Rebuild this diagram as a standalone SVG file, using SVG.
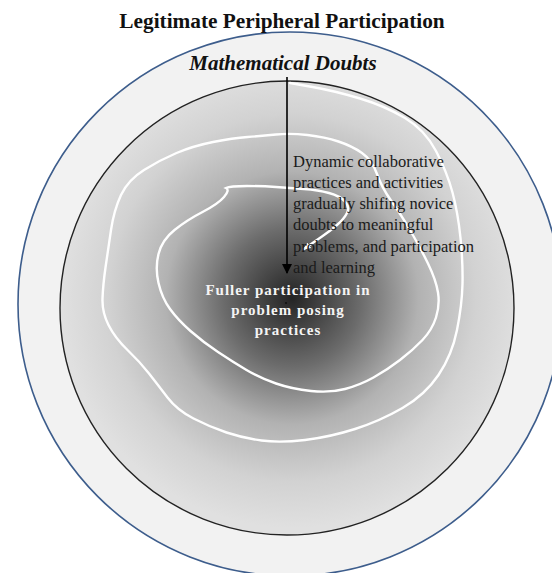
<svg xmlns="http://www.w3.org/2000/svg" width="552" height="573" viewBox="0 0 552 573">
<defs>
<style>
.title{font-family:"Liberation Serif","Times New Roman",serif;font-weight:bold;fill:#111;}
.body{font-family:"Liberation Serif","Times New Roman",serif;font-size:16.5px;fill:#1a1a1a;}
.core{font-family:"Liberation Serif","Times New Roman",serif;font-weight:bold;font-size:15px;fill:#f4f4f4;letter-spacing:1px;}
</style>
<radialGradient id="g" cx="292" cy="298" r="230" gradientUnits="userSpaceOnUse">
<stop offset="0" stop-color="#242424"/>
<stop offset="0.3" stop-color="#6c6c6c"/>
<stop offset="0.55" stop-color="#b2b2b2"/>
<stop offset="0.8" stop-color="#d2d2d2"/>
<stop offset="1" stop-color="#e0e0e0"/>
</radialGradient>
<marker id="bk" viewBox="0 0 10 10" refX="9" refY="5" markerWidth="10" markerHeight="11" markerUnits="userSpaceOnUse" orient="auto">
<path d="M0,0 L10,5 L0,10 Z" fill="#000"/>
</marker>
<marker id="wh" viewBox="0 0 10 10" refX="8" refY="5" markerWidth="8" markerHeight="8" markerUnits="userSpaceOnUse" orient="auto">
<path d="M0,1 L9,5 L0,9 Z" fill="#fff"/>
</marker>
</defs>
<rect width="552" height="573" fill="#fff"/>
<g id="outer-ring">
<circle cx="290" cy="304" r="272" fill="#f2f2f2" stroke="#3d5d8c" stroke-width="1.6"/>
</g>
<g id="inner-circle">
<circle cx="287" cy="308" r="227" fill="url(#g)" stroke="#222" stroke-width="1.4"/>
</g>
<g id="spiral">
<path d="M290,83 L312.5,87 Q335,91 360,98.5 Q385,106 405,118 Q425,130 436,151 Q447,172 452.5,192.5 Q458,213 460.5,238 Q463,263 462.5,284 Q462,305 457,330 Q452,355 438.5,375 Q425,395 402.5,408 Q380,421 355,429 Q330,437 305,440 Q280,443 261.5,440.5 Q243,438 226.5,432.5 Q210,427 193.5,418.5 Q177,410 167.5,397.5 Q158,385 149,373.5 Q140,362 127.5,350 Q115,338 108.5,325 Q102,312 102.5,298.5 Q103,285 105.5,267.5 Q108,250 111,230 Q114,210 121,195 Q128,180 144,170 Q160,160 176.5,153 Q193,146 213,142 Q233,138 247.5,137 Q262,136 276,134.5 Q290,133 307.5,135 Q325,137 338.5,141.5 Q352,146 362,153 Q372,160 377,174 Q382,188 391,200.5 Q400,213 410,230 Q420,247 428,263.5 Q436,280 438,292.5 Q440,305 436,317.5 Q432,330 422.5,340 Q413,350 400,360 Q387,370 373.5,377.5 Q360,385 345,389 Q330,393 311,391 Q292,389 276,383.5 Q260,378 246.5,370 Q233,362 218,352 Q203,342 190.5,331 Q178,320 170,309 Q162,298 158.5,283 Q155,268 158.5,254 Q162,240 174.5,230 Q187,220 202.5,212 Q218,204 224,197 Q230,190 226,188 Q230,186 247,186 Q262,186 276,187 Q290,188 304,189 Q318,190 329,193 Q340,196 345,201.5 Q350,207 347,213 Q344,219 337,225 Q330,231 322,236.5 Q314,242 304,249" fill="none" stroke="#fff" stroke-width="2.4" stroke-linecap="round" marker-end="url(#wh)"/>
</g>
<g id="connectors">
<line x1="287" y1="77" x2="287" y2="273" stroke="#000" stroke-width="1.6" marker-end="url(#bk)"/>
</g>
<g id="title">
<text class="title" x="282" y="28" font-size="21.3" text-anchor="middle">Legitimate Peripheral Participation</text>
</g>
<g id="doubts">
<text class="title" x="283" y="70" font-size="21" font-style="italic" text-anchor="middle">Mathematical Doubts</text>
</g>
<g id="process-label">
<text class="body"><tspan x="293" y="167">Dynamic  collaborative</tspan><tspan x="293" y="188">practices  and activities</tspan><tspan x="293" y="209">gradually  shifing  novice</tspan><tspan x="293" y="230">doubts  to meaningful</tspan><tspan x="293" y="252">problems,  and participation</tspan><tspan x="293" y="273">and  learning</tspan></text>
</g>
<g id="core">
<text class="core" text-anchor="middle"><tspan x="288" y="295">Fuller participation in</tspan><tspan x="288" y="315">problem posing</tspan><tspan x="288" y="335">practices</tspan></text>
<circle cx="286" cy="303" r="1.1" fill="#111"/>
</g>
</svg>
